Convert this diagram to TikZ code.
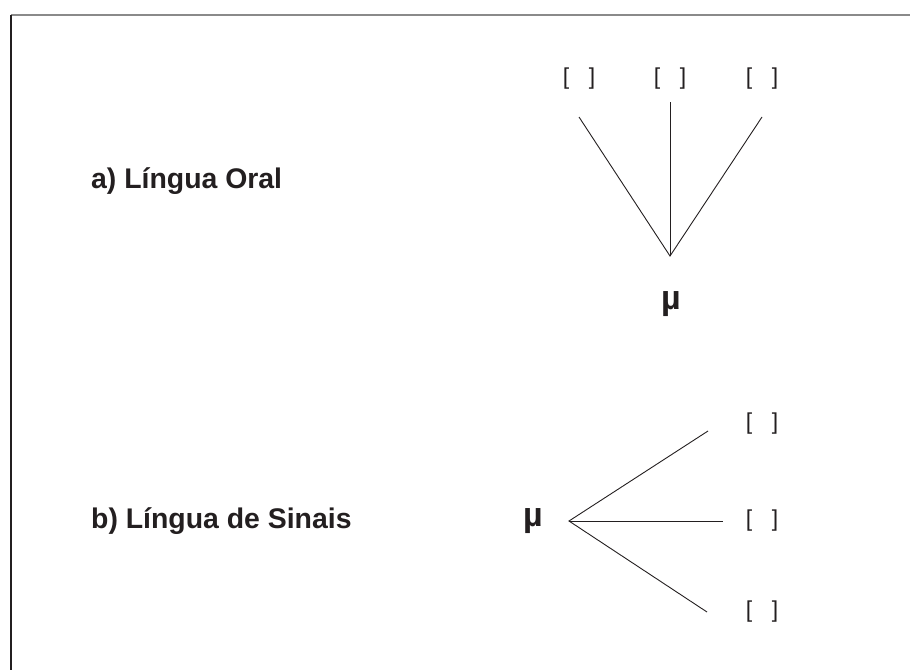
\documentclass[tikz,border=0pt]{standalone}
\usepackage{fontspec}
\setmainfont{Liberation Sans}
\definecolor{ink}{HTML}{231F20}
\definecolor{framegray}{HTML}{8A8A8A}
\begin{document}
\begin{tikzpicture}[x=1pt,y=-1pt,
  label/.style={font=\fontsize{28.4}{32}\selectfont\bfseries, text=ink, inner sep=0pt, anchor=base west},
  mu/.style={font=\fontsize{34}{38}\selectfont\bfseries, text=ink, inner sep=0pt, anchor=base},
  slot/.style={font=\fontsize{23}{26}\selectfont, text=ink, inner sep=0pt, anchor=center},
  branch/.style={draw=ink, line width=0.9pt}]
\useasboundingbox (0,0) rectangle (910,670);
% frame
\draw[framegray, line width=1.3pt] (11,15) -- (910,15);
\draw[ink, line width=1.3pt] (11,15) -- (11,670);

% a) oral language: three slots converging on mu
\node[label] (la) at (91,188) {a) Língua Oral};
\node[slot] (t1) at (579,79) {[\hspace{0.85em}]};
\node[slot] (t2) at (670,79) {[\hspace{0.85em}]};
\node[slot] (t3) at (762,79) {[\hspace{0.85em}]};
\coordinate (tapex) at (670,256);
\coordinate (te1) at (579,117);
\coordinate (te2) at (670,102);
\coordinate (te3) at (762,117);
\draw[branch] (te1) -- (tapex) -- (te3);
\draw[branch] (te2) -- (tapex);
\node[mu] (mua) at (671,309) {µ};

% b) sign language: mu fanning out to three slots
\node[label] (lb) at (91,528) {b) Língua de Sinais};
\node[mu] (mub) at (533,526) {µ};
\coordinate (bapex) at (569,521);
\coordinate (be1) at (708,431);
\coordinate (be2) at (723,521);
\coordinate (be3) at (707,612);
\draw[branch] (be1) -- (bapex) -- (be3);
\draw[branch] (bapex) -- (be2);
\node[slot] (s1) at (762,424) {[\hspace{0.85em}]};
\node[slot] (s2) at (762,521) {[\hspace{0.85em}]};
\node[slot] (s3) at (762,612) {[\hspace{0.85em}]};
\end{tikzpicture}
\end{document}
